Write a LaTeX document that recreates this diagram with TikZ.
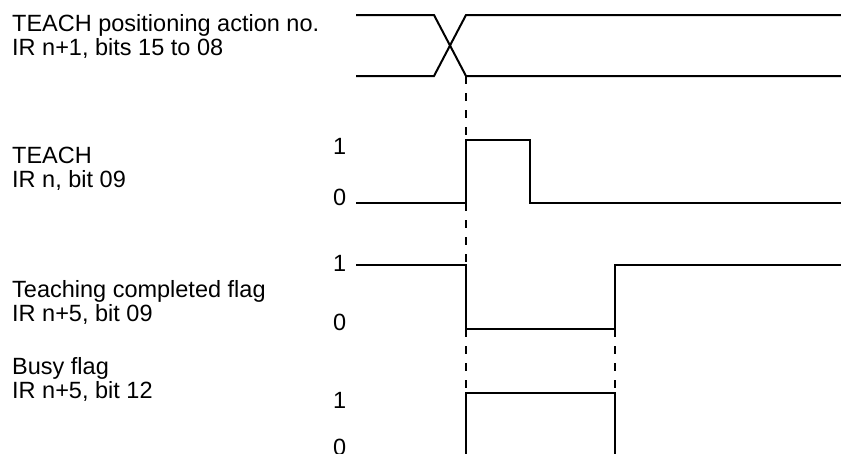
\documentclass[tikz,border=0pt]{standalone}
\usepackage{fontspec}
\setmainfont{Liberation Sans}
\begin{document}
\begin{tikzpicture}[x=1pt,y=-1pt,
  lbl/.style={anchor=base west,inner sep=0pt,align=left,font=\fontsize{23.5}{23.4}\selectfont},
  lvl/.style={anchor=base west,inner sep=0pt,font=\fontsize{23.5}{23.4}\selectfont},
  sig/.style={line width=2pt,line join=miter},
  guide/.style={line width=2pt,dash pattern=on 8pt off 9pt}]
\useasboundingbox (0,0) rectangle (841,453);
% labels (anchored at the baseline of their last line)
\node[lbl] (l1) at (12,55) {TEACH positioning action no.\\IR n+1, bits 15 to 08};
\node[lbl] (l2) at (12,187) {TEACH\\IR n, bit 09};
\node[lbl] (l3) at (12,321) {Teaching completed flag\\IR n+5, bit 09};
\node[lbl] (l4) at (12,398) {Busy flag\\IR n+5, bit 12};
\node[lvl] (t1) at (333,154) {1};
\node[lvl] (t0) at (333,205) {0};
\node[lvl] (c1) at (333,271) {1};
\node[lvl] (c0) at (333,330) {0};
\node[lvl] (b1) at (333,408) {1};
\node[lvl] (b0) at (333,455) {0};
% coordinates
\coordinate (a1) at (356,15);
\coordinate (a2) at (434,15);
\coordinate (a3) at (466,76);
\coordinate (a4) at (841,76);
\coordinate (a5) at (356,76);
\coordinate (a6) at (434,76);
\coordinate (a7) at (466,15);
\coordinate (a8) at (841,15);
% bus signal
\draw[sig] (a1) -- (a2) -- (a3) -- (a4);
\draw[sig] (a5) -- (a6) -- (a7) -- (a8);
% TEACH
\coordinate (p1) at (356,203);
\coordinate (p2) at (466,203);
\coordinate (p3) at (466,140);
\coordinate (p4) at (530,140);
\coordinate (p5) at (530,203);
\coordinate (p6) at (841,203);
\draw[sig] (p1) -- (p2) -- (p3) -- (p4) -- (p5) -- (p6);
% Teaching completed
\coordinate (q1) at (356,265);
\coordinate (q2) at (466,265);
\coordinate (q3) at (466,329);
\coordinate (q4) at (615,329);
\coordinate (q5) at (615,265);
\coordinate (q6) at (841,265);
\draw[sig] (q1) -- (q2) -- (q3) -- (q4) -- (q5) -- (q6);
% Busy
\coordinate (r1) at (466,455);
\coordinate (r2) at (466,393);
\coordinate (r3) at (615,393);
\coordinate (r4) at (615,455);
\draw[sig] (r1) -- (r2) -- (r3) -- (r4);
% guides
\draw[guide] (a3) -- (p3);
\draw[guide] (p2) -- (q2);
\draw[guide] (q3) -- (r2);
\draw[guide] (q4) -- (r3);
\end{tikzpicture}
\end{document}
